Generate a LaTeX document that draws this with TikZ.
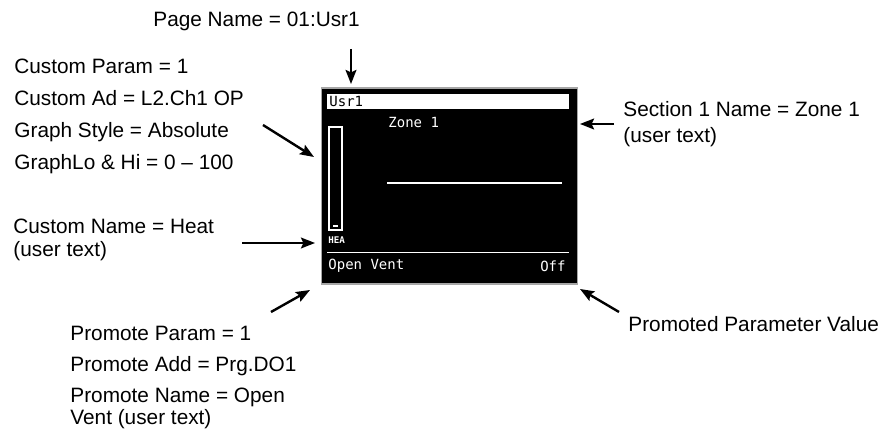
\documentclass[tikz,border=0pt]{standalone}
\usepackage{fontspec}
\setmainfont{Liberation Sans}
\newfontfamily\lcdfont{DejaVu Sans Mono}
\usetikzlibrary{arrows.meta, positioning}

\begin{document}
\begin{tikzpicture}[
    x=0.5pt, y=-0.5pt,
    label/.style={anchor=north west, inner sep=0pt, align=left, font=\fontsize{10.4}{16}\selectfont},
    screen/.style={rectangle, draw=gray!70, line width=0.6pt, fill=black, minimum width=128pt, minimum height=98pt, inner sep=0pt},
    lcd/.style={inner sep=0pt, font=\lcdfont\fontsize{7}{8}\selectfont, text=white},
    lcdline/.style={draw=white, line width=0.7pt},
    arrow/.style={-{Stealth[length=7pt, width=5.4pt, inset=1.2pt]}, line width=1.2pt},
]
\useasboundingbox (0,0) rectangle (894,437);

% the display
\node[screen] (screen) at (449.5,186) {};
\fill[white] (327,94) rectangle (569,109);
\node[lcd, text=black, anchor=west] (title) at (329,101.5) {Usr1};
\draw[lcdline] (329,127) rectangle (342,230);
\draw[lcdline] (333,226) -- (338,226);
\node[lcd, anchor=west, font=\lcdfont\bfseries\fontsize{4.6}{5}\selectfont] (bar) at (328,240.5) {HEA};
\node[lcd, anchor=west] (zone) at (388,123) {Zone 1};
\draw[lcdline] (387,183) -- (562,183);
\draw[lcdline] (327,252.5) -- (569,252.5);
\node[lcd, anchor=west] (vent) at (328,266) {Open Vent};
\node[lcd, anchor=east] (off) at (566,266) {Off};

% labels
\node[label] (pagename) at (153,11.3) {Page Name = 01:Usr1};
\node[label] (custom) at (14,59) {Custom Param = 1\\Custom Ad = L2.Ch1 OP\\Graph Style = Absolute\\GraphLo \& Hi = 0 -- 100};
\node[label, font=\fontsize{10.4}{11.5}\selectfont] (customname) at (13,219) {Custom Name = Heat\\(user text)};
\node[label, font=\fontsize{10.4}{15.5}\selectfont] (promote) at (70,325.3) {Promote Param = 1\\Promote Add = Prg.DO1\\Promote Name = Open\\[-4.5pt]Vent (user text)};
\node[label, font=\fontsize{10.4}{13}\selectfont] (section) at (623,100.6) {Section 1 Name = Zone 1\\(user text)};
\node[label] (promoted) at (628,315.6) {Promoted Parameter Value};

% arrows
\coordinate (pg-from) at (351,49);
\coordinate (pg-to) at (351,84);
\coordinate (cp-from) at (263,125);
\coordinate (cp-to) at (314,157);
\coordinate (cn-from) at (242,243);
\coordinate (cn-to) at (315,243);
\coordinate (pp-from) at (271,312);
\coordinate (pp-to) at (310,290);
\coordinate (sn-from) at (614,124);
\coordinate (sn-to) at (580,124);
\coordinate (pv-from) at (619,312);
\coordinate (pv-to) at (580,289);

\draw[arrow] (pg-from) -- (pg-to);
\draw[arrow] (cp-from) -- (cp-to);
\draw[arrow] (cn-from) -- (cn-to);
\draw[arrow] (pp-from) -- (pp-to);
\draw[arrow] (sn-from) -- (sn-to);
\draw[arrow] (pv-from) -- (pv-to);

\end{tikzpicture}
\end{document}
